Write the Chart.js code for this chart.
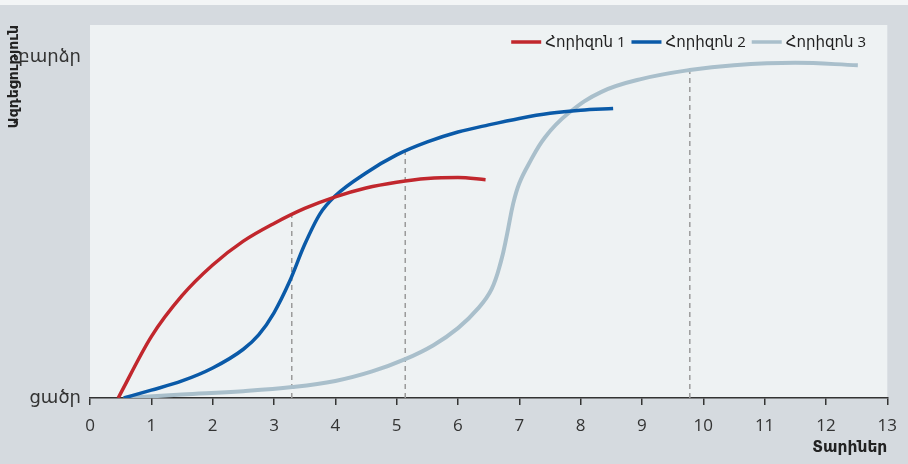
<!DOCTYPE html>
<html lang="hy">
<head>
<meta charset="utf-8">
<title>Ազդեցություն ըստ հորիզոնների</title>
<script src="https://cdn.jsdelivr.net/npm/chart.js@4.4.1/dist/chart.umd.min.js"></script>
<style>
  html, body { margin: 0; padding: 0; background: #d5dadf; }
  #wrap { width: 908px; height: 464px; }
  canvas { display: block; }
</style>
</head>
<body>
<div id="wrap"><canvas id="c" width="908" height="464"></canvas></div>
<script>
// Horizon 1
const h1Years  = [0.46, 1.0, 1.5, 2.0, 2.5, 3.0, 3.5, 4.0, 4.5, 5.0, 5.5, 6.0, 6.45];
const h1Impact = [0, 18.0, 30.0, 39.0, 46.0, 51.2, 55.6, 59.0, 61.6, 63.3, 64.4, 64.7, 64.0];

// Horizon 2
const h2Years  = [0.55, 1.0, 1.5, 2.0, 2.5, 2.75, 3.0, 3.25, 3.5, 3.75, 4.0, 4.5, 5.0, 5.5, 6.0, 6.5, 7.0, 7.5, 8.0, 8.53];
const h2Impact = [0, 2.3, 5.0, 8.8, 14.3, 18.5, 25.0, 34.0, 45.0, 54.0, 59.3, 66.0, 71.3, 75.1, 78.0, 80.1, 82.0, 83.5, 84.4, 84.9];

// Horizon 3
const h3Years  = [0.55, 1.5, 2.5, 3.3, 4.0, 4.6, 5.14, 5.6, 6.0, 6.34, 6.55, 6.7, 6.8, 6.9, 7.0, 7.15, 7.42, 7.8, 8.34, 9.0, 9.78, 10.5, 11.5, 12.52];
const h3Impact = [0, 1.0, 2.0, 3.2, 5.0, 7.8, 11.4, 15.5, 20.5, 26.5, 32.0, 40.0, 48.0, 57.0, 63.0, 68.5, 76.5, 83.5, 89.8, 93.6, 96.2, 97.6, 98.3, 97.6];

// Dashed drop lines: year and the impact reached there
const dropYears  = [3.29, 5.14, 9.78];
const dropImpact = [54.0, 72.2, 96.2];

const seriesNames  = ['Հորիզոն 1', 'Հորիզոն 2', 'Հորիզոն 3'];
const xTickValues  = [0, 1, 2, 3, 4, 5, 6, 7, 8, 9, 10, 11, 12, 13];
const yTickValues  = [0, 100];
const yTickLabels  = ['ցածր', 'բարձր'];
const xTitle = 'Տարիներ';
const yTitle = 'Ազդեցություն';

const colors = ['#c1272d', '#0a5aa8', '#a9bfcb'];
const smoothing = ['monotone', 'monotone', 'default'];
const FONT = '"Open Sans", "DejaVu Sans", sans-serif';

const toPoints = (xs, ys) => xs.map((x, i) => ({ x: x, y: ys[i] }));

const curveSets = [
  [h1Years, h1Impact],
  [h2Years, h2Impact],
  [h3Years, h3Impact]
].map(([xs, ys], i) => ({
  label: seriesNames[i],
  data: toPoints(xs, ys),
  borderColor: colors[i],
  backgroundColor: colors[i],
  borderWidth: i === 2 ? 4 : 3.5,
  pointRadius: 0,
  tension: 0.4,
  cubicInterpolationMode: smoothing[i],
  borderCapStyle: 'butt',
  fill: false,
  order: 1
}));

const dropSets = dropYears.map((x, i) => ({
  label: '',
  data: [{ x: x, y: 0 }, { x: x, y: dropImpact[i] }],
  borderColor: '#9b9b9b',
  borderWidth: 1.5,
  borderDash: [5, 4],
  pointRadius: 0,
  tension: 0,
  fill: false,
  order: 2
}));

// Backdrop: outer panel and lighter plotting field
const backdrop = {
  id: 'backdrop',
  beforeDraw(chart) {
    const { ctx, chartArea: a, width, height } = chart;
    ctx.save();
    ctx.fillStyle = '#d5dadf';
    ctx.fillRect(0, 0, width, height);
    ctx.fillStyle = '#f3f5f6';
    ctx.fillRect(0, 0, width, 5);
    ctx.fillStyle = '#eef2f3';
    ctx.fillRect(a.left, a.top, a.right - a.left, a.bottom - a.top);
    ctx.restore();
  }
};

// Legend line-swatches in the top-right corner of the plotting field
const cornerLegend = {
  id: 'cornerLegend',
  afterDraw(chart) {
    const { ctx } = chart;
    const items = chart.data.datasets.filter(d => d.label);
    const swatch = 30, gapText = 4, gapItem = 6, rightEdge = 866, y = 43;
    ctx.save();
    ctx.font = '15px ' + FONT;
    ctx.textBaseline = 'middle';
    const widths = items.map(d => swatch + gapText + ctx.measureText(d.label).width);
    const total = widths.reduce((s, w) => s + w, 0) + gapItem * (items.length - 1);
    let x = rightEdge - total;
    items.forEach((d, i) => {
      ctx.strokeStyle = d.borderColor;
      ctx.lineWidth = 3.5;
      ctx.beginPath();
      ctx.moveTo(x, y - 1);
      ctx.lineTo(x + swatch, y - 1);
      ctx.stroke();
      ctx.fillStyle = '#222';
      ctx.textAlign = 'left';
      ctx.fillText(d.label, x + swatch + gapText, y);
      x += widths[i] + gapItem;
    });
    ctx.restore();
  }
};

new Chart(document.getElementById('c'), {
  type: 'line',
  data: { datasets: curveSets.concat(dropSets) },
  plugins: [backdrop, cornerLegend],
  options: {
    responsive: false,
    animation: false,
    layout: { padding: { top: 25, right: 18, left: 0, bottom: 0 } },
    plugins: {
      legend: { display: false },
      tooltip: { enabled: false }
    },
    scales: {
      x: {
        type: 'linear',
        min: 0,
        max: 13,
        afterBuildTicks(scale) { scale.ticks = xTickValues.map(v => ({ value: v })); },
        afterFit(scale) { scale.height = 66; },
        ticks: {
          font: { family: FONT, size: 17 },
          color: '#333',
          padding: 11,
          maxRotation: 0,
          autoSkip: false
        },
        grid: {
          display: true,
          drawOnChartArea: false,
          drawTicks: true,
          tickLength: 7,
          color: '#333',
          lineWidth: 1.5
        },
        border: { display: true, color: '#333', width: 1.5 },
        title: {
          display: true,
          text: xTitle,
          align: 'end',
          color: '#222',
          font: { family: FONT, size: 15.5, weight: 'bold' },
          padding: { top: 0, bottom: 7 }
        }
      },
      y: {
        type: 'linear',
        min: 0,
        max: 109.4,
        afterBuildTicks(scale) { scale.ticks = yTickValues.map(v => ({ value: v })); },
        afterFit(scale) { scale.width = 90; },
        ticks: {
          font: { family: FONT, size: 18 },
          color: '#333',
          padding: 9,
          callback: (v) => yTickLabels[yTickValues.indexOf(v)]
        },
        grid: { display: false, drawTicks: false },
        border: { display: false },
        title: {
          display: true,
          text: yTitle,
          align: 'end',
          color: '#222',
          font: { family: FONT, size: 14, weight: 'bold' },
          padding: { top: 6, bottom: 0 }
        }
      }
    }
  }
});
</script>
</body>
</html>
